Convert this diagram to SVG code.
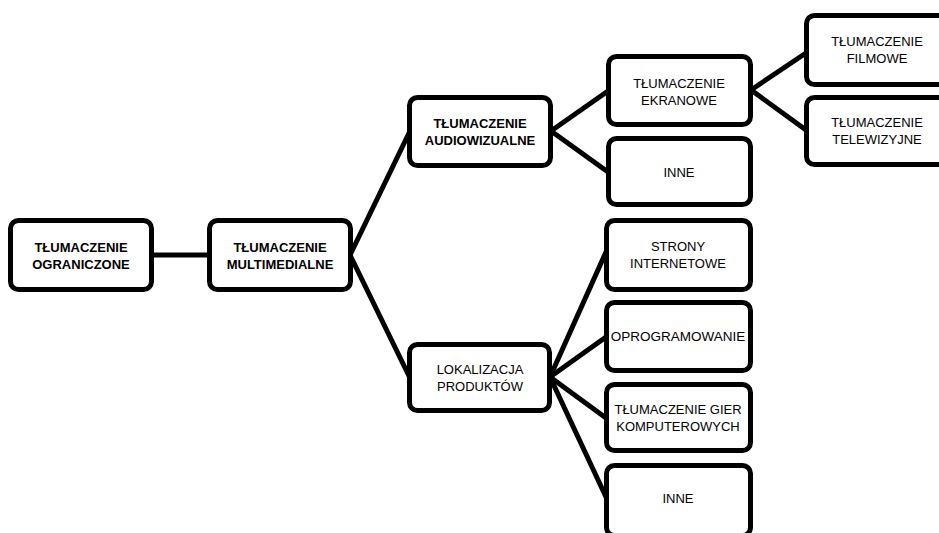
<svg xmlns="http://www.w3.org/2000/svg" width="939" height="533" viewBox="0 0 939 533">
<style>
.box{fill:#fff;stroke:#000;stroke-width:5}
.c{stroke:#000;stroke-width:5;fill:none;stroke-linecap:round}
text{font-family:"Liberation Sans",Arial,sans-serif;font-size:13px;fill:#000;text-anchor:middle}
.b{font-weight:bold}
</style>
<rect width="939" height="533" fill="#fff"/>
<g id="connectors">
<line class="c" x1="152" y1="255" x2="211" y2="255"/>
<line class="c" x1="351" y1="253" x2="410" y2="131"/>
<line class="c" x1="351" y1="257" x2="410" y2="378"/>
<line class="c" x1="551" y1="131" x2="608" y2="91"/>
<line class="c" x1="551" y1="131" x2="608" y2="172"/>
<line class="c" x1="751" y1="90" x2="806" y2="53"/>
<line class="c" x1="751" y1="90" x2="806" y2="130"/>
<line class="c" x1="550" y1="377" x2="606" y2="252"/>
<line class="c" x1="550" y1="377" x2="606" y2="337"/>
<line class="c" x1="550" y1="377" x2="606" y2="418"/>
<line class="c" x1="550" y1="377" x2="606" y2="497"/>
</g>
<g id="n-ograniczone">
<rect class="box" x="10.5" y="220.5" width="141" height="69" rx="8"/>
<text class="b" x="81" y="251.5">TŁUMACZENIE</text>
<text class="b" x="81" y="268.5">OGRANICZONE</text>
</g>
<g id="n-multimedialne">
<rect class="box" x="209.5" y="220.5" width="141" height="69" rx="8"/>
<text class="b" x="280" y="251.5">TŁUMACZENIE</text>
<text class="b" x="280" y="268.5">MULTIMEDIALNE</text>
</g>
<g id="n-audiowizualne">
<rect class="box" x="409.5" y="97.5" width="141" height="68" rx="8"/>
<text class="b" x="480" y="128">TŁUMACZENIE</text>
<text class="b" x="480" y="145">AUDIOWIZUALNE</text>
</g>
<g id="n-ekranowe">
<rect class="box" x="608.5" y="56.5" width="142" height="68" rx="8"/>
<text x="679" y="88">TŁUMACZENIE</text>
<text x="679" y="105">EKRANOWE</text>
</g>
<g id="n-inne1">
<rect class="box" x="608.5" y="138.5" width="142" height="66" rx="8"/>
<text x="679" y="177">INNE</text>
</g>
<g id="n-filmowe">
<rect class="box" x="806.5" y="15.5" width="142" height="69" rx="8"/>
<text x="877" y="46">TŁUMACZENIE</text>
<text x="877" y="63">FILMOWE</text>
</g>
<g id="n-telewizyjne">
<rect class="box" x="806.5" y="97.5" width="142" height="67" rx="8"/>
<text x="877" y="127">TŁUMACZENIE</text>
<text x="877" y="144">TELEWIZYJNE</text>
</g>
<g id="n-lokalizacja">
<rect class="box" x="409.5" y="344.5" width="140" height="66" rx="8"/>
<text x="480" y="374">LOKALIZACJA</text>
<text x="480" y="391">PRODUKTÓW</text>
</g>
<g id="n-strony">
<rect class="box" x="606.5" y="220.5" width="144" height="69" rx="8"/>
<text x="678" y="251">STRONY</text>
<text x="678" y="268">INTERNETOWE</text>
</g>
<g id="n-oprogramowanie">
<rect class="box" x="606.5" y="302.5" width="144" height="68" rx="8"/>
<text x="678" y="341" style="font-size:13.5px">OPROGRAMOWANIE</text>
</g>
<g id="n-gry">
<rect class="box" x="606.5" y="384.5" width="144" height="66" rx="8"/>
<text x="678" y="414">TŁUMACZENIE GIER</text>
<text x="678" y="431">KOMPUTEROWYCH</text>
</g>
<g id="n-inne2">
<rect class="box" x="606.5" y="465.5" width="144" height="70" rx="8"/>
<text x="678" y="503">INNE</text>
</g>
</svg>
